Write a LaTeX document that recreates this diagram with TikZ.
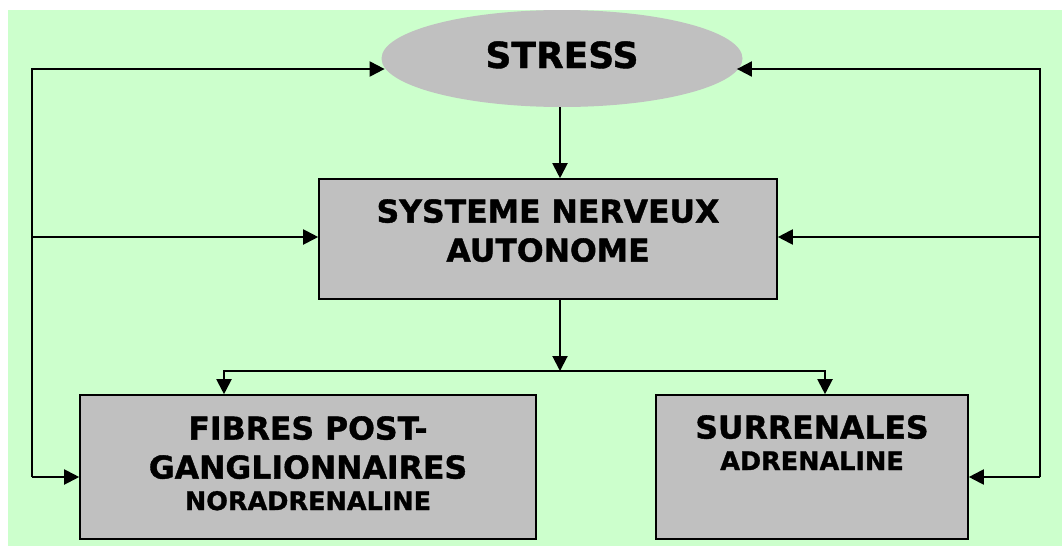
\documentclass[tikz,border=0pt]{standalone}
\usepackage{fontspec}
\setmainfont{DejaVu Sans}[BoldFeatures={FakeBold=1.2}]
\usetikzlibrary{positioning,shapes.geometric,arrows.meta}
\definecolor{fondvert}{HTML}{CCFFCC}
\definecolor{gris}{HTML}{C0C0C0}
\tikzset{
  boite/.style={draw=black,line width=1.6pt,fill=gris,rectangle,inner sep=0pt},
  fleche/.style={line width=2pt,-{Triangle[length=15pt,width=15pt]}},
  grand/.style={font=\bfseries\fontsize{31.5}{39}\selectfont,align=center,inner sep=0pt},
  petit/.style={font=\bfseries\fontsize{25.5}{32}\selectfont,inner sep=0pt}
}
\begin{document}
\begin{tikzpicture}[x=1pt,y=-1pt]
\useasboundingbox (0,0) rectangle (1064,546);
\fill[fondvert] (8,10) rectangle (1062,546);
% noeuds
\node[ellipse,fill=gris,minimum width=361pt,minimum height=97pt,inner sep=0pt] (stress) at (562,58.5) {};
\node[font=\bfseries\fontsize{36}{40}\selectfont,anchor=base,inner sep=0pt] (stress txt) at (562,68) {STRESS};
\node[boite,minimum width=458pt,minimum height=120pt] (sna) at (548,239) {};
\node[grand,anchor=north] (sna txt) at (548,199) {SYSTEME NERVEUX\\AUTONOME};
\node[boite,minimum width=456pt,minimum height=144pt] (fibres) at (308,467) {};
\node[grand,anchor=north] (fibres txt) at (308,416) {FIBRES POST-\\GANGLIONNAIRES};
\node[petit,anchor=base] (fibres sub) at (308,510) {NORADRENALINE};
\node[boite,minimum width=312pt,minimum height=144pt] (surr) at (812,467) {};
\node[grand,anchor=north] (surr txt) at (812,415) {SURRENALES};
\node[petit,anchor=base] (surr sub) at (812,470) {ADRENALINE};
% points de passage
\coordinate (split) at (560,371);
\coordinate (bl) at (224,371);
\coordinate (br) at (825,371);
\coordinate (lhaut) at (32,69);
\coordinate (lmil) at (32,237);
\coordinate (lbas) at (32,477);
\coordinate (rhaut) at (1040,69);
\coordinate (rmil) at (1040,237);
\coordinate (rbas) at (1040,477);
% liaisons
\draw[fleche] (stress.south -| split) -- (split |- sna.north);
\draw[fleche] (split |- sna.south) -- (split);
\draw[fleche] (split) -- (bl) -- (bl |- fibres.north);
\draw[fleche] (split) -- (br) -- (br |- surr.north);
% retour gauche
\draw[fleche] (lbas) -- (lhaut) -- (lhaut -| stress.183.6);
\draw[fleche] (lmil) -- (lmil -| sna.west);
\draw[fleche] (lbas) -- (lbas -| fibres.west);
% retour droite
\draw[fleche] (rbas) -- (rhaut) -- (rhaut -| stress.356.4);
\draw[fleche] (rmil) -- (rmil -| sna.east);
\draw[fleche] (rbas) -- (rbas -| surr.east);
\end{tikzpicture}
\end{document}
